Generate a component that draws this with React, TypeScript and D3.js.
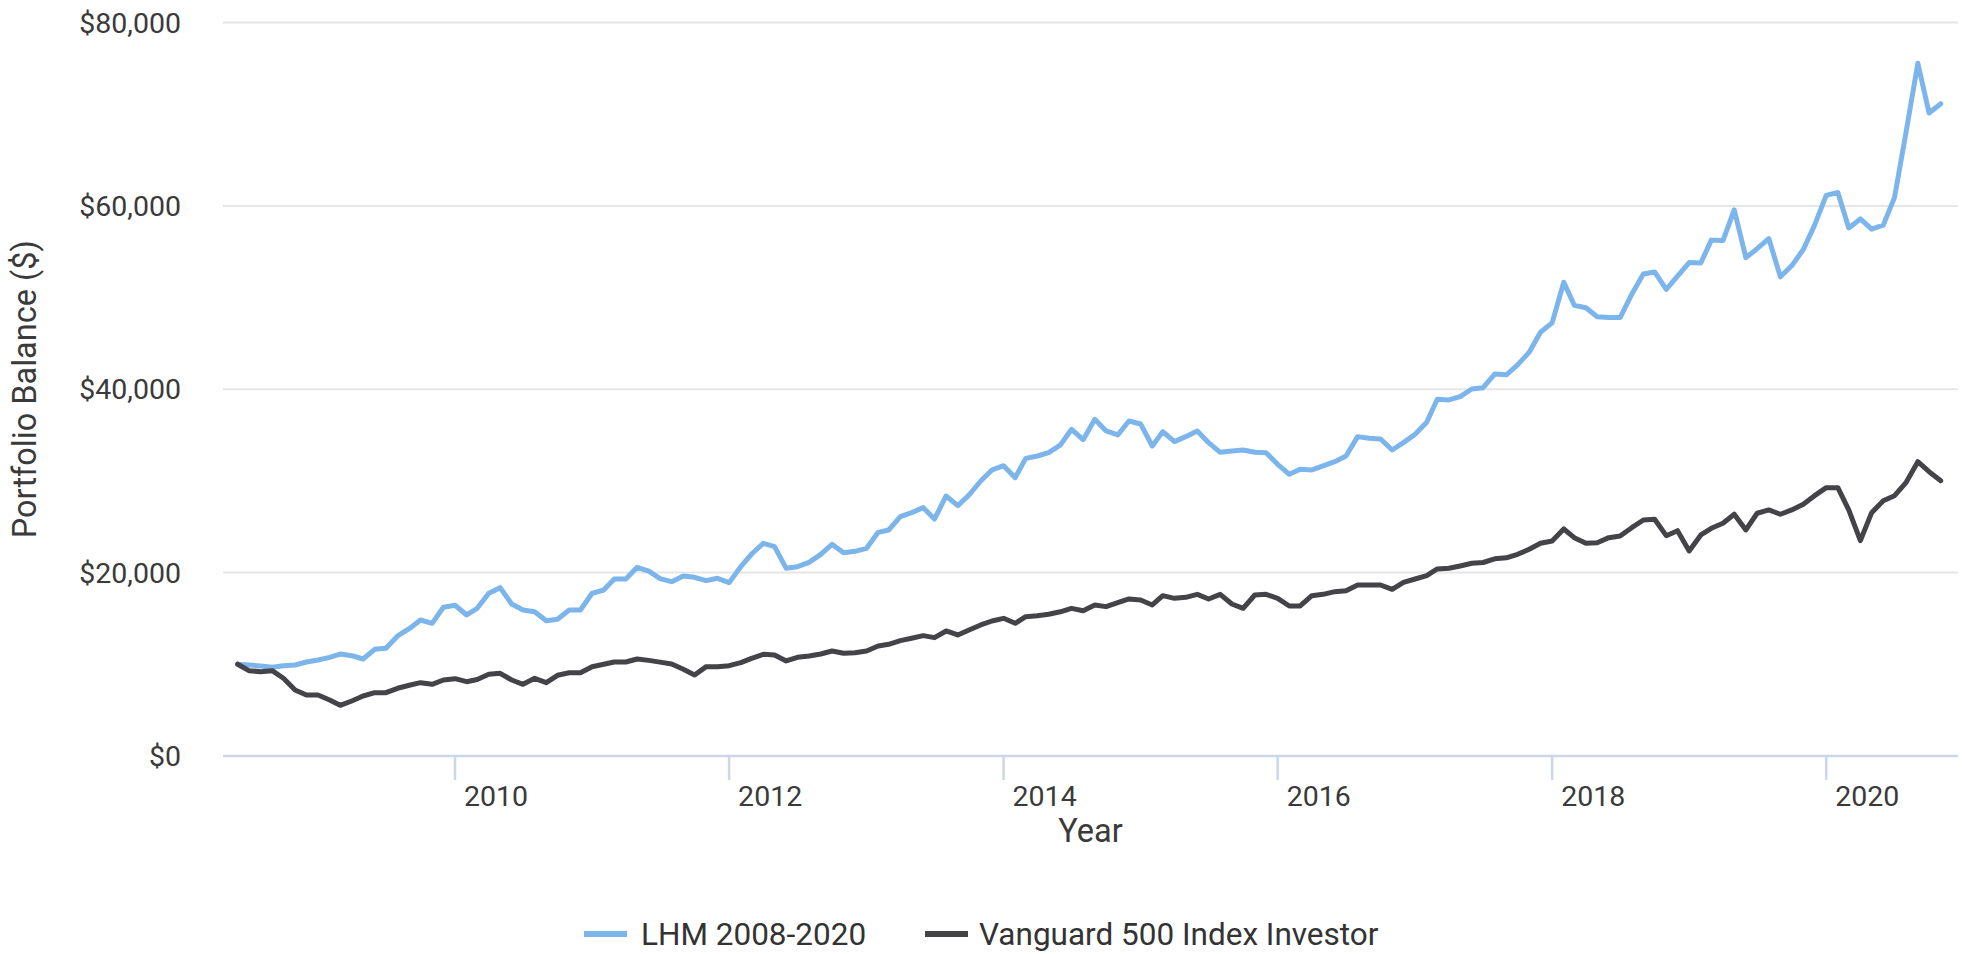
import React from "react";
import * as d3 from "d3";

// ---- Data (monthly balances, starting with $10,000 at end of May 2008) ----
const startYear = 2008;
const startMonth = 5; // index of the first point's date: 1 Jun 2008 (end of May 2008)

const lhmValues: number[] = [
  10000, 9918, 9809, 9664, 9845, 9918, 10245, 10460, 10751, 11115,
  10933, 10573, 11630, 11740, 13082, 13879, 14828, 14464, 16213, 16431,
  15374, 16104, 17741, 18353, 16574, 15919, 15737, 14755, 14901, 15919,
  15919, 17741, 18101, 19302, 19302, 20578, 20150, 19340, 19012, 19631,
  19485, 19121, 19376, 18903, 20644, 22026, 23190, 22827, 20462, 20644,
  21117, 21990, 23081, 22172, 22317, 22645, 24391, 24645, 26100, 26537,
  27082, 25846, 28355, 27300, 28464, 29991, 31192, 31664, 30355, 32464,
  32719, 33083, 33900, 35630, 34500, 36721, 35448, 35012, 36539, 36212,
  33811, 35375, 34284, 34830, 35448, 34175, 33120, 33266, 33375, 33120,
  33084, 31811, 30720, 31265, 31193, 31629, 32102, 32720, 34830, 34648,
  34575, 33375, 34175, 35085, 36394, 38904, 38831, 39195, 40031, 40170,
  41660, 41580, 42663, 44048, 46220, 47245, 51680, 49155, 48893, 47911,
  47823, 47823, 50355, 52582, 52800, 50890, 52352, 53825, 53781, 56269,
  56225, 59580, 54359, 55330, 56443, 52264, 53464, 55243, 57906, 61158,
  61463, 57600, 58582, 57469, 57906, 60928, 68129, 75559, 70137, 71151,
];

const vanguardValues: number[] = [
  10000, 9296, 9187, 9296, 8467, 7190, 6645, 6645, 6100, 5521,
  5990, 6536, 6896, 6896, 7376, 7703, 7987, 7812, 8281, 8423,
  8096, 8336, 8903, 9012, 8281, 7812, 8467, 7987, 8794, 9078,
  9078, 9733, 9994, 10245, 10245, 10570, 10420, 10230, 10027, 9445,
  8827, 9736, 9736, 9845, 10173, 10646, 11082, 11010, 10355, 10755,
  10900, 11119, 11446, 11191, 11264, 11446, 11992, 12173, 12573, 12828,
  13119, 12901, 13628, 13192, 13737, 14283, 14719, 15010, 14464, 15192,
  15301, 15446, 15720, 16100, 15830, 16464, 16283, 16719, 17119, 17010,
  16464, 17483, 17192, 17301, 17628, 17119, 17628, 16573, 16100, 17555,
  17628, 17192, 16355, 16355, 17483, 17628, 17919, 18028, 18647, 18647,
  18647, 18174, 18938, 19302, 19666, 20393, 20466, 20720, 21011, 21100,
  21500, 21610, 21996, 22542, 23197, 23448, 24757, 23808, 23197, 23262,
  23808, 23993, 24899, 25739, 25815, 24026, 24572, 22357, 24102, 24833,
  25379, 26361, 24648, 26470, 26831, 26361, 26831, 27452, 28390, 29263,
  29263, 26831, 23481, 26536, 27845, 28390, 29852, 32100, 31009, 30027,
];

const seriesNames = ["LHM 2008-2020", "Vanguard 500 Index Investor"];
const seriesColors = ["#7cb5ec", "#434348"];
const yTickValues = [0, 20000, 40000, 60000, 80000];
const xTickYears = [2010, 2012, 2014, 2016, 2018, 2020];

// ---- Layout ----
const W = 1965;
const H = 954;
const plotLeft = 223;
const plotRight = 1958;
const plotTop = 22.6;
const plotBottom = 755.9;
const FONT = "Roboto, 'Noto Sans', sans-serif";

export default function App() {
  const dates = lhmValues.map((_, i) => new Date(startYear, startMonth + i, 1));

  const x = d3
    .scaleTime()
    .domain([new Date(2008, 3, 23), new Date(2020, 11, 17)])
    .range([plotLeft, plotRight]);
  const y = d3.scaleLinear().domain([0, 80000]).range([plotBottom, plotTop]);

  const line = d3
    .line<number>()
    .x((_, i) => x(dates[i]))
    .y((d) => y(d));

  const series = [lhmValues, vanguardValues];
  const fmt = (v: number) => "$" + d3.format(",")(v);

  // legend layout
  const legendY = 934;
  const legendItems = [
    { sx: 584, tx: 641 },
    { sx: 925, tx: 979 },
  ];

  return (
    <svg
      width={W}
      height={H}
      style={{ position: "absolute", left: 0, top: 0, display: "block", background: "#fff" }}
      fontFamily={FONT}
    >
      {/* grid lines */}
      {yTickValues
        .filter((v) => v !== 0)
        .map((v) => (
          <line
            key={"g" + v}
            x1={plotLeft}
            x2={plotRight}
            y1={y(v)}
            y2={y(v)}
            stroke="#e6e6e6"
            strokeWidth={2}
          />
        ))}

      {/* y labels */}
      {yTickValues.map((v) => (
        <text
          key={"yl" + v}
          x={181}
          y={y(v)}
          dy="0.35em"
          textAnchor="end"
          fontSize={28.5}
          fill="#3a3a3a"
        >
          {fmt(v)}
        </text>
      ))}

      {/* x axis line + ticks */}
      <line
        x1={plotLeft}
        x2={plotRight}
        y1={plotBottom}
        y2={plotBottom}
        stroke="#ccd6eb"
        strokeWidth={2.5}
      />
      {xTickYears.map((yr) => {
        const tx = x(new Date(yr, 0, 1));
        return (
          <g key={"xt" + yr}>
            <line
              x1={tx}
              x2={tx}
              y1={plotBottom}
              y2={plotBottom + 24}
              stroke="#ccd6eb"
              strokeWidth={2.5}
            />
            <text x={tx + 9} y={806} fontSize={28.5} fill="#3a3a3a">
              {yr}
            </text>
          </g>
        );
      })}

      {/* axis titles */}
      <text
        x={(plotLeft + plotRight) / 2}
        y={842}
        textAnchor="middle"
        fontSize={32.5}
        fill="#3a3a3a"
      >
        Year
      </text>
      <text
        transform={`translate(36, ${(plotTop + plotBottom) / 2}) rotate(-90)`}
        textAnchor="middle"
        fontSize={32.5}
        fill="#3a3a3a"
      >
        Portfolio Balance ($)
      </text>

      {/* series */}
      {series.map((vals, si) => (
        <path
          key={"s" + si}
          d={line(vals) || ""}
          fill="none"
          stroke={seriesColors[si]}
          strokeWidth={5}
          strokeLinejoin="round"
          strokeLinecap="round"
        />
      ))}

      {/* legend */}
      {seriesNames.map((name, si) => (
        <g key={"lg" + si}>
          <line
            x1={legendItems[si].sx}
            x2={legendItems[si].sx + 43}
            y1={legendY}
            y2={legendY}
            stroke={seriesColors[si]}
            strokeWidth={6}
          />
          <text x={legendItems[si].tx} y={945} fontSize={31.5} fill="#333333">
            {name}
          </text>
        </g>
      ))}
    </svg>
  );
}
